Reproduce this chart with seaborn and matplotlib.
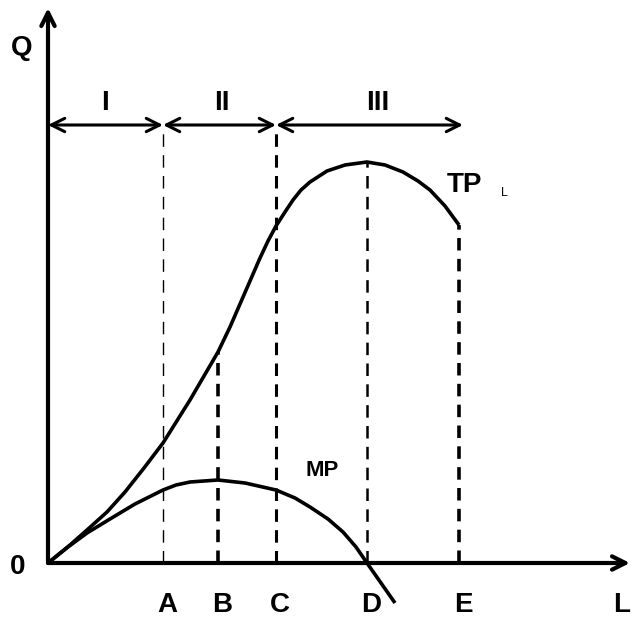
import pandas as pd
import seaborn as sns
import matplotlib.pyplot as plt

sns.set_theme(style='white')
plt.rcParams['font.family'] = ['Liberation Sans', 'DejaVu Sans']
plt.rcParams['lines.scale_dashes'] = False

# total product curve (labour L vs output Q)
tp_l = [0, 2.2, 3.9, 5.9, 7.7, 9.6, 11.5, 14.2, 17.0, 18.2, 19.2, 20.2, 21.2,
        22.0, 22.8, 23.7, 24.5, 25.3, 26.2, 27.9, 29.7, 31.9, 33.7, 35.5, 37.0,
        38.2, 39.7, 41.1]
tp_q = [0, 1.8, 3.3, 5.1, 7.1, 9.5, 12.0, 16.3, 21.1, 23.6, 25.9, 28.2, 30.5,
        32.2, 33.7, 35.1, 36.3, 37.3, 38.1, 39.2, 39.8, 40.1, 39.8, 39.1, 38.2,
        37.3, 35.7, 33.8]

# marginal product curve
mp_l = [0, 2.0, 3.9, 6.2, 8.7, 11.5, 12.8, 14.2, 17.0, 19.7, 22.8, 24.7, 26.2,
        28.0, 29.5, 30.8, 31.9, 33.3, 34.7]
mp_q = [0, 1.6, 3.0, 4.4, 5.9, 7.3, 7.8, 8.1, 8.3, 8.0, 7.3, 6.5, 5.6,
        4.4, 3.1, 1.6, 0, -2.0, -4.0]

# reference points on the L axis and height of their guide lines
pt_names = ['A', 'B', 'C', 'D', 'E']
pt_l = [11.5, 17.0, 22.8, 31.9, 41.1]
pt_top = [43.3, 21.1, 43.3, 40.1, 33.8]
pt_lw = [1.0, 2.6, 2.2, 1.8, 2.6]

# stages of production
stage_names = ['I', 'II', 'III']
stage_bounds = [0, 11.5, 22.8, 41.5]
stage_label_l = [5.7, 17.4, 33.0]

tp = pd.DataFrame({'L': tp_l, 'Q': tp_q})
mp = pd.DataFrame({'L': mp_l, 'Q': mp_q})

fig = plt.figure(figsize=(6.39, 6.26), dpi=100)
ax = fig.add_axes([0, 0, 1, 1])
ax.set_xlim(-4.8, 59.1)
ax.set_ylim(-6.3, 56.3)
ax.axis('off')

for df in (tp, mp):
    sns.lineplot(data=df, x='L', y='Q', color='black', linewidth=2.6, ax=ax,
                 sort=False, estimator=None, solid_joinstyle='round',
                 solid_capstyle='butt')

# dashed guides
for x, top, lw in zip(pt_l, pt_top, pt_lw):
    ax.plot([x, x], [0, top], color='black', linewidth=lw, linestyle=(0, (9, 6)))

# axes with arrow heads
arrow = dict(arrowstyle='->,head_length=0.8,head_width=0.4', color='black', lw=3,
             shrinkA=0, shrinkB=0)
ax.annotate('', xy=(0, 55.5), xytext=(0, 0), arrowprops=arrow)
ax.annotate('', xy=(58.2, 0), xytext=(0, 0), arrowprops=arrow)

# stage arrows
stage_y = 43.8
sarrow = dict(arrowstyle='<->,head_length=0.8,head_width=0.4', color='black', lw=2.2,
              shrinkA=0, shrinkB=0)
for name, x0, x1, xl in zip(stage_names, stage_bounds[:-1], stage_bounds[1:],
                            stage_label_l):
    ax.annotate('', xy=(x1, stage_y), xytext=(x0, stage_y), arrowprops=sarrow)
    ax.text(xl, stage_y + 0.9, name, ha='center', va='bottom',
            fontsize=20, fontweight='bold', color='black')

big = dict(fontsize=20, fontweight='bold', color='black')
ax.text(-2.6, 51.5, 'Q', ha='center', va='center', **big)
ax.text(-3.0, -0.4, '0', ha='center', va='center', **big)
ax.text(57.4, -4.2, 'L', ha='center', va='center', **big)
for name, x in zip(pt_names, pt_l):
    ax.text(x + 0.4, -4.2, name, ha='center', va='center', **big)

ax.text(39.9, 37.8, 'TP', ha='left', va='center', **big)
ax.text(45.3, 37.0, 'L', ha='left', va='center', fontsize=9, color='black')
ax.text(27.4, 9.3, 'MP', ha='center', va='center', fontsize=16,
        fontweight='bold', color='black')

fig.savefig('out.png', dpi=100)
